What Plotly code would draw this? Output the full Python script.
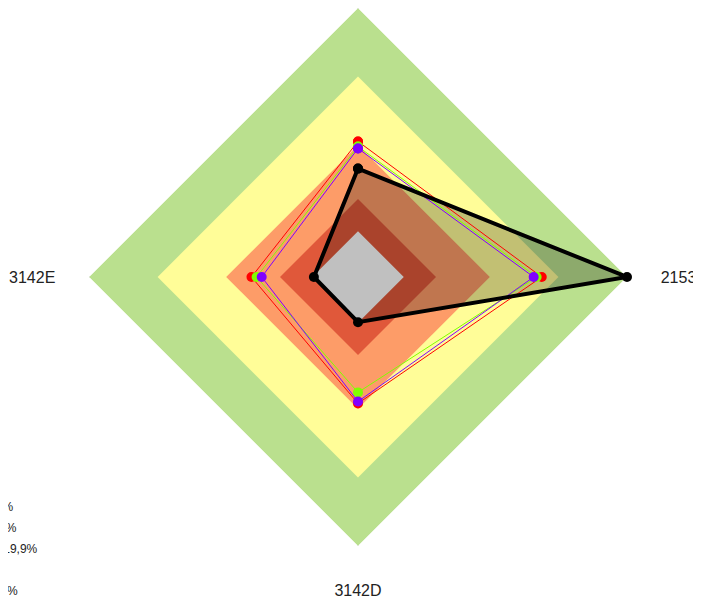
import plotly.graph_objects as go

# Kategorien (oben, rechts, unten, links)
kategorien = ["3142C", "2153", "3142D", "3142E"]

# Zonen (von außen nach innen)
zonen_namen = ["≥ 30,0%", "≥ 20,0 %", "10,0 - 19,9%", "< 0%", "< -10,0%"]
zonen_radius = [100, 74.5, 49, 29, 17]
zonen_farben = ["#bae08e", "#fffd98", "#fd9c68", "#e0583a", "#c0c0c0"]

# Messreihen
reihe_rot = [50.4, 68.3, 47.0, 39.6]
reihe_gruen = [48.5, 66.4, 42.9, 37.7]
reihe_lila = [47.8, 65.3, 46.3, 35.8]
reihe_schwarz = [40.3, 100, 16.8, 16.4]


def geschlossen(werte):
    return list(werte) + [werte[0]]


theta = geschlossen(kategorien)

fig = go.Figure()

# Zonen außen -> innen (ohne die graue Mitte)
for i, (name, r, farbe) in enumerate(zip(zonen_namen[:-1], zonen_radius[:-1], zonen_farben[:-1])):
    fig.add_trace(go.Scatterpolar(
        r=geschlossen([r] * 4), theta=theta,
        fill='toself', fillcolor=farbe,
        mode='lines', line=dict(width=0, color=farbe),
        name=name, legendgroup=f"z{i}", hoverinfo='skip'
    ))

# Fläche der schwarzen Reihe
fig.add_trace(go.Scatterpolar(
    r=geschlossen(reihe_schwarz), theta=theta,
    fill='toself', fillcolor='rgba(0,0,0,0.24)',
    mode='lines', line=dict(width=0),
    showlegend=False, hoverinfo='skip'
))

# graue Mitte
fig.add_trace(go.Scatterpolar(
    r=geschlossen([zonen_radius[-1]] * 4), theta=theta,
    fill='toself', fillcolor=zonen_farben[-1],
    mode='lines', line=dict(width=0, color=zonen_farben[-1]),
    name=zonen_namen[-1], legendgroup="z4", hoverinfo='skip'
))

for werte, farbe in [(reihe_rot, '#ff0000'), (reihe_gruen, '#80ff00'), (reihe_lila, '#8000ff')]:
    fig.add_trace(go.Scatterpolar(
        r=geschlossen(werte), theta=theta,
        mode='lines+markers',
        line=dict(color=farbe, width=1),
        marker=dict(color=farbe, size=10),
        showlegend=False
    ))

fig.add_trace(go.Scatterpolar(
    r=geschlossen(reihe_schwarz), theta=theta,
    mode='lines+markers',
    line=dict(color='black', width=4),
    marker=dict(color='black', size=10),
    showlegend=False
))

fig.update_layout(
    width=701, height=610,
    paper_bgcolor='white',
    margin=dict(l=72, r=73, t=0, b=72, autoexpand=False),
    font=dict(family='Liberation Sans, Arial, sans-serif', color='#222'),
    polar=dict(
        bgcolor='white',
        gridshape='linear',
        radialaxis=dict(range=[0, 100], visible=False, showgrid=False),
        angularaxis=dict(
            rotation=90, direction='clockwise',
            showline=False, ticks='outside', ticklen=30,
            tickcolor='rgba(0,0,0,0)',
            gridcolor='#dadada', gridwidth=1,
            tickfont=dict(size=16, color='#222')
        )
    ),
    legend=dict(
        x=-0.2712, y=0.1, xanchor='left', yanchor='top',
        tracegroupgap=2,
        font=dict(size=12, color='#222'),
        bgcolor='rgba(0,0,0,0)'
    )
)

fig.write_html("out.html")
